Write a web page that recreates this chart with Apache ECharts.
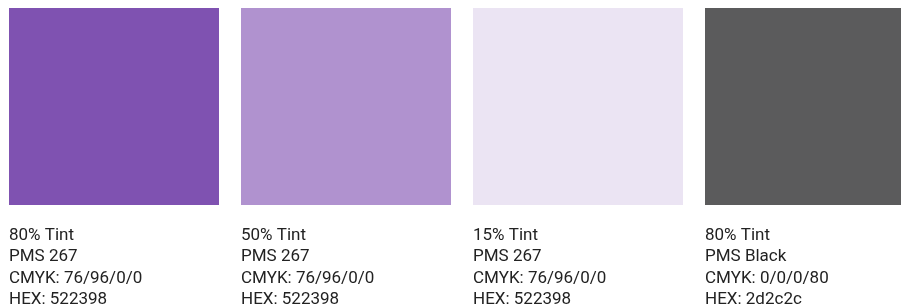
<!DOCTYPE html>
<html>
<head>
<meta charset="utf-8">
<style>html,body{margin:0;padding:0;background:#fff;}#c{width:901px;height:306px;}</style>
<script src="https://cdn.jsdelivr.net/npm/echarts@6/dist/echarts.min.js"></script>
</head>
<body>
<div id="c"></div>
<script>
const categories = ['80% Tint PMS 267', '50% Tint PMS 267', '15% Tint PMS 267', '80% Tint PMS Black'];
const tints = ['80% Tint', '50% Tint', '15% Tint', '80% Tint'];
const pms = ['PMS 267', 'PMS 267', 'PMS 267', 'PMS Black'];
const cmyk = ['CMYK: 76/96/0/0', 'CMYK: 76/96/0/0', 'CMYK: 76/96/0/0', 'CMYK: 0/0/0/80'];
const hex = ['HEX: 522398', 'HEX: 522398', 'HEX: 522398', 'HEX: 2d2c2c'];
const values = [1, 1, 1, 1];
const swatchColors = ['#7f52b1', '#b092cf', '#ebe4f3', '#5b5b5c'];

const chart = echarts.init(document.getElementById('c'), null, {renderer: 'canvas'});
chart.setOption({
  animation: false,
  grid: {left: -2, top: 8, width: 928, height: 197, containLabel: false, outerBoundsMode: 'none'},
  xAxis: {type: 'category', data: categories, show: false},
  yAxis: {type: 'value', min: 0, max: 1, show: false},
  series: [{
    type: 'bar',
    barWidth: 210,
    data: values.map((v, i) => ({value: v, itemStyle: {color: swatchColors[i]}})),
    label: {
      show: true,
      position: [0, 216.5],
      align: 'left',
      verticalAlign: 'top',
      fontFamily: 'Roboto',
      fontSize: 17,
      lineHeight: 21.5,
      color: '#222222',
      formatter: p => [tints[p.dataIndex], pms[p.dataIndex], cmyk[p.dataIndex], hex[p.dataIndex]].join('\n')
    }
  }]
});
</script>
</body>
</html>
